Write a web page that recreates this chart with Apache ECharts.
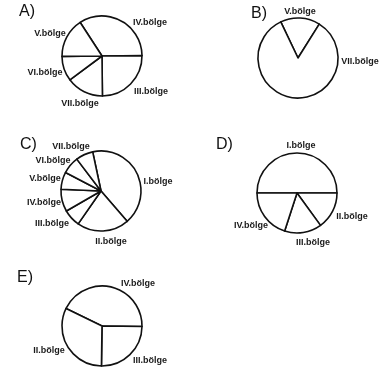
<!DOCTYPE html>
<html>
<head>
<meta charset="utf-8">
<script src="https://cdn.jsdelivr.net/npm/echarts@6/dist/echarts.min.js"></script>
<style>
html, body { margin: 0; padding: 0; background: #fff; }
#chart { width: 392px; height: 371px; }
</style>
</head>
<body>
<div id="chart"></div>
<script>
// slice shares (%), listed clockwise from the first dividing line
const namesA = ['IV.bölge', 'III.bölge', 'VII.bölge', 'VI.bölge', 'V.bölge'];
const valuesA = [34, 25, 15, 10, 16];
const namesB = ['V.bölge', 'VII.bölge'];
const valuesB = [16, 84];
const namesC = ['I.bölge', 'II.bölge', 'III.bölge', 'IV.bölge', 'V.bölge', 'VI.bölge', 'VII.bölge'];
const valuesC = [42, 21, 7, 9, 7, 7, 7];
const namesD = ['I.bölge', 'II.bölge', 'III.bölge', 'IV.bölge'];
const valuesD = [50, 15, 15, 20];
const namesE = ['IV.bölge', 'III.bölge', 'II.bölge'];
const valuesE = [43, 25, 32];
const panelTitles = ['A)', 'B)', 'C)', 'D)', 'E)'];

// layout of the five panels
const panels = [
    { names: namesA, values: valuesA, center: [102, 56], start: 123, title: [19, 4],
      labels: [[150, 23], [151, 92], [80, 104], [45, 73], [50, 34]] },
    { names: namesB, values: valuesB, center: [298, 58], start: 115.5, title: [251, 6],
      labels: [[300, 12], [360, 62]] },
    { names: namesC, values: valuesC, center: [101, 191], start: 102, title: [20, 137],
      labels: [[158, 182], [111, 242], [52, 224], [44, 203], [45, 179], [53, 161], [71, 147]] },
    { names: namesD, values: valuesD, center: [297, 193], start: 180, title: [216, 137],
      labels: [[301, 146], [352, 217], [313, 243], [251, 226]] },
    { names: namesE, values: valuesE, center: [102, 326], start: 154, title: [17, 270],
      labels: [[138, 284], [150, 361], [49, 351]] }
];

const fontFamily = '"Liberation Sans", Arial, sans-serif';

let chart = echarts.init(document.getElementById('chart'));

let titles = panels.map(function (p, i) {
    return {
        text: panelTitles[i],
        left: p.title[0],
        top: p.title[1],
        padding: 0,
        textStyle: { fontSize: 16, fontWeight: 'normal', color: '#111', fontFamily: fontFamily }
    };
});

let series = panels.map(function (p) {
    return {
        type: 'pie',
        center: p.center,
        radius: 40,
        startAngle: p.start,
        clockwise: true,
        silent: true,
        avoidLabelOverlap: false,
        itemStyle: { color: '#fff', borderColor: '#111', borderWidth: 1.6 },
        label: {
            show: true,
            position: 'outside',
            formatter: '{b}',
            fontSize: 9,
            fontWeight: 'bold',
            color: '#1a1a1a',
            fontFamily: fontFamily
        },
        labelLine: { show: false },
        labelLayout: function (params) {
            let pos = p.labels[params.dataIndex];
            return { x: pos[0], y: pos[1], align: 'center', verticalAlign: 'middle' };
        },
        emphasis: { disabled: true },
        data: p.names.map(function (n, j) {
            return { name: n, value: p.values[j] };
        })
    };
});

chart.setOption({
    animation: false,
    backgroundColor: '#fff',
    title: titles,
    series: series
});
</script>
</body>
</html>
